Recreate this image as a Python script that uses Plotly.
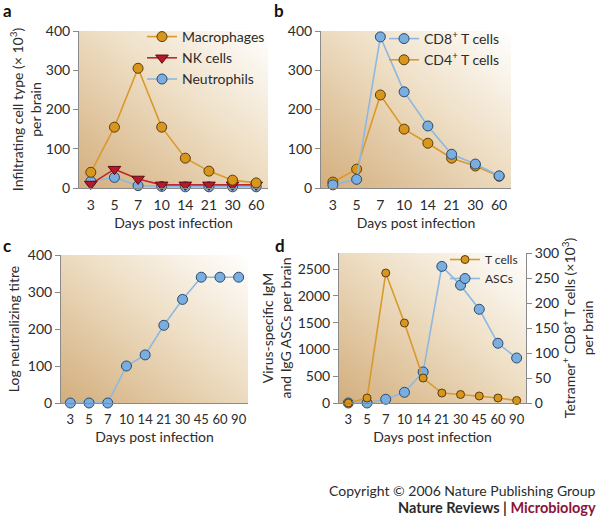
import base64
import plotly.graph_objects as go

# ---------------- data ----------------
days_ab = ["3", "5", "7", "10", "14", "21", "30", "60"]
macrophages = [40, 155, 305, 155, 76, 43, 20, 13]
nk_cells = [10, 48, 23, 8, 8, 8, 8, 8]
neutrophils = [17, 27, 6, 4, 3, 3, 3, 3]

cd8_t = [8, 22, 385, 245, 158, 86, 61, 31]
cd4_t = [15, 48, 237, 150, 114, 76, 56, 30]

days_cd = ["3", "5", "7", "10", "14", "21", "30", "45", "60", "90"]
neutralizing_titre = [0, 0, 0, 100, 130, 210, 280, 340, 340, 340]

asc_per_brain = [0, 0, 70, 200, 580, 2550, 2200, 1750, 1115, 840]
tetramer_t = [0, 10, 260, 160, 50, 20, 17, 14, 10, 5]

# ---------------- style ----------------
W, H = 600, 516
FONT = "Lato, 'Open Sans', sans-serif"
TXT = "#2b2b2b"
AX = "#8a8a8a"
ORANGE, ORANGE_LINE, ORANGE_EDGE = "#d9961f", "#d99a2b", "#5a3d0a"
BLUE, BLUE_LINE, BLUE_EDGE = "#7aaee0", "#8db8e2", "#2c4a6a"
RED, RED_LINE, RED_EDGE = "#b41a2c", "#c0282f", "#5a0c14"


def xd(a, b):
    return [a / W, b / W]


def yd(top, bottom):
    return [1 - bottom / H, 1 - top / H]


svg = ('<svg xmlns="http://www.w3.org/2000/svg" width="200" height="200" preserveAspectRatio="none">'
       '<defs><linearGradient id="g" x1="0" y1="1" x2="1" y2="0">'
       '<stop offset="0" stop-color="#d3ae7d"/>'
       '<stop offset="0.55" stop-color="#eedec4"/>'
       '<stop offset="1" stop-color="#ffffff"/>'
       '</linearGradient></defs><rect width="200" height="200" fill="url(#g)"/></svg>')
grad_src = "data:image/svg+xml;base64," + base64.b64encode(svg.encode()).decode()

fig = go.Figure()


def line_trace(x, y, name, color, lcolor, edge, xa, ya, symbol="circle", size=10, legend="legend", show=True):
    return go.Scatter(
        x=x, y=y, name=name, mode="lines+markers",
        line=dict(color=lcolor, width=1.6),
        marker=dict(color=color, size=size, symbol=symbol, line=dict(color=edge, width=1)),
        xaxis=xa, yaxis=ya, legend=legend, showlegend=show, cliponaxis=False,
    )


# panel a
fig.add_trace(line_trace(days_ab, neutrophils, "Neutrophils", BLUE, BLUE_LINE, BLUE_EDGE, "x", "y", legend="legend"))
fig.add_trace(line_trace(days_ab, nk_cells, "NK cells", RED, RED_LINE, RED_EDGE, "x", "y", symbol="triangle-down", size=11, legend="legend"))
fig.add_trace(line_trace(days_ab, macrophages, "Macrophages", ORANGE, ORANGE_LINE, ORANGE_EDGE, "x", "y", legend="legend"))
# panel b
fig.add_trace(line_trace(days_ab, cd4_t, "CD4<sup>+</sup> T cells", ORANGE, ORANGE_LINE, ORANGE_EDGE, "x2", "y2", legend="legend2"))
fig.add_trace(line_trace(days_ab, cd8_t, "CD8<sup>+</sup> T cells", BLUE, BLUE_LINE, BLUE_EDGE, "x2", "y2", legend="legend2"))
# panel c
fig.add_trace(line_trace(days_cd, neutralizing_titre, "Log neutralizing titre", BLUE, BLUE_LINE, BLUE_EDGE, "x3", "y3", show=False))
# panel d
fig.add_trace(line_trace(days_cd, asc_per_brain, "ASCs", BLUE, BLUE_LINE, BLUE_EDGE, "x4", "y4", size=10, legend="legend3"))
fig.add_trace(line_trace(days_cd, tetramer_t, "T cells", ORANGE, ORANGE_LINE, ORANGE_EDGE, "x4", "y5", size=8, legend="legend3"))

titlefont = dict(family=FONT, size=14, color=TXT)


def xaxis(domain, anchor, n, fs=14):
    return dict(domain=domain, anchor=anchor, type="category", range=[-0.5, n - 0.5],
                showline=True, linecolor=AX, linewidth=1, ticks="", showgrid=False,
                zeroline=False, tickfont=dict(family=FONT, size=fs, color=TXT),
                ticklabelstandoff=4, automargin=False,
                title=dict(text="Days post infection", font=titlefont, standoff=6))


def yaxis(domain, anchor, rng, dtick, title, side="left", overlaying=None, standoff=4):
    d = dict(domain=domain, anchor=anchor, range=rng, dtick=dtick, side=side,
             showline=True, linecolor=AX, linewidth=1, ticks="outside", ticklen=5,
             tickcolor=AX, showgrid=False, zeroline=False,
             tickfont=dict(family=FONT, size=14, color=TXT), automargin=False,
             title=dict(text=title, font=titlefont, standoff=standoff))
    if overlaying:
        d["overlaying"] = overlaying
    return d


fig.update_layout(
    template="none",
    width=W, height=H, margin=dict(l=0, r=0, t=0, b=0, autoexpand=False),
    paper_bgcolor="white", plot_bgcolor="rgba(0,0,0,0)",
    font=dict(family=FONT, color=TXT),
    xaxis=xaxis(xd(79, 268), "y", 8),
    yaxis=yaxis(yd(31, 188), "x", [0, 400], 100,
                "Infiltrating cell type (× 10<sup>3</sup>)<br>per brain", standoff=0),
    xaxis2=xaxis(xd(321, 511), "y2", 8),
    yaxis2=yaxis(yd(31, 188), "x2", [0, 400], 100, ""),
    xaxis3=xaxis(xd(61, 248), "y3", 10, fs=13),
    yaxis3=yaxis(yd(255, 403), "x3", [0, 400], 100, "Log neutralizing titre"),
    xaxis4=xaxis(xd(339, 526), "y4", 10, fs=13),
    yaxis4=yaxis(yd(253, 403), "x4", [0, 2800], 500,
                 "Virus-specific IgM<br>and IgG ASCs per brain", standoff=2),
    yaxis5=yaxis(yd(253, 403), "x4", [0, 300], 50,
                 "Tetramer<sup>+</sup> CD8<sup>+</sup> T cells (×10<sup>3</sup>)<br>per brain",
                 side="right", overlaying="y4"),
    legend=dict(x=142 / W, y=1 - 21 / H, xanchor="left", yanchor="top",
                bgcolor="rgba(0,0,0,0)", font=dict(family=FONT, size=14, color=TXT),
                traceorder="reversed", itemwidth=30, tracegroupgap=0),
    legend2=dict(x=384 / W, y=1 - 23 / H, xanchor="left", yanchor="top",
                 bgcolor="rgba(0,0,0,0)", font=dict(family=FONT, size=14, color=TXT),
                 traceorder="reversed", itemwidth=30),
    legend3=dict(x=445 / W, y=1 - 245 / H, xanchor="left", yanchor="top",
                 bgcolor="rgba(0,0,0,0)", font=dict(family=FONT, size=12, color=TXT),
                 traceorder="reversed", itemwidth=30),
)

# gradient backgrounds
for xa, ya in [("x", "y"), ("x2", "y2"), ("x3", "y3"), ("x4", "y4")]:
    fig.add_layout_image(dict(source=grad_src, xref=f"{xa} domain", yref=f"{ya} domain",
                              x=0, y=1, sizex=1, sizey=1, xanchor="left", yanchor="top",
                              sizing="stretch", layer="below"))

# panel letters
for letter, x, y in [("a", 1, 10), ("b", 272, 10), ("c", 1, 246), ("d", 273, 246)]:
    fig.add_annotation(text=f"<b>{letter}</b>", x=x / W, y=1 - y / H, xref="paper", yref="paper",
                       xanchor="left", yanchor="middle", showarrow=False,
                       font=dict(family=FONT, size=17, color="#111"))

# footer
fig.add_annotation(text="Copyright © 2006 Nature Publishing Group", x=598 / W, y=1 - 490 / H,
                   xref="paper", yref="paper", xanchor="right", yanchor="middle", showarrow=False,
                   font=dict(family=FONT, size=14, color=TXT))
fig.add_annotation(text="<b>Nature Reviews | <span style='color:#8b1538'>Microbiology</span></b>",
                   x=598 / W, y=1 - 507 / H, xref="paper", yref="paper", xanchor="right",
                   yanchor="middle", showarrow=False, font=dict(family=FONT, size=14.5, color=TXT))

fig.write_html("out.html", config={"displayModeBar": False},
               post_script="document.body.style.margin='0';document.body.style.overflow='hidden';")
